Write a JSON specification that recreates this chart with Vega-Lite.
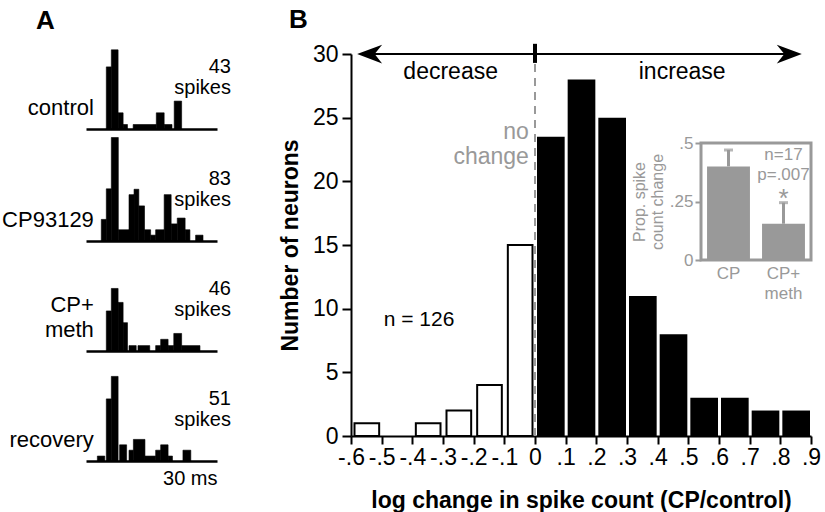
{
  "$schema": "https://vega.github.io/schema/vega-lite/v6.json",
  "padding": {"left": 2, "top": 6, "right": 0, "bottom": 0},
  "background": "white",
  "config": {"view": {"stroke": null}, "font": "Liberation Sans", "axis": {"grid": false}},
  "datasets": {
    "ctrl": [
      {"t0": 4.65, "t1": 5.8, "n": 13.8},
      {"t0": 5.8, "t1": 7.35, "n": 17.6},
      {"t0": 7.35, "t1": 8.5, "n": 3.6},
      {"t0": 8.5, "t1": 9.5, "n": 1},
      {"t0": 10.8, "t1": 16.1, "n": 1},
      {"t0": 16.1, "t1": 17.9, "n": 3.6},
      {"t0": 17.9, "t1": 19.7, "n": 1},
      {"t0": 20.2, "t1": 21.9, "n": 6.2}
    ],
    "cp": [
      {"t0": 3.5, "t1": 4.65, "n": 4.8},
      {"t0": 4.65, "t1": 5.8, "n": 11.6},
      {"t0": 5.8, "t1": 7.4, "n": 23},
      {"t0": 7.4, "t1": 9.85, "n": 2.5},
      {"t0": 9.85, "t1": 11.0, "n": 10.3},
      {"t0": 11.0, "t1": 12.1, "n": 11.5},
      {"t0": 12.1, "t1": 13.4, "n": 7.8},
      {"t0": 13.4, "t1": 14.8, "n": 2.5},
      {"t0": 14.8, "t1": 15.95, "n": 1.3},
      {"t0": 15.95, "t1": 17.9, "n": 2.5},
      {"t0": 17.9, "t1": 19.5, "n": 10.3},
      {"t0": 19.5, "t1": 20.9, "n": 3.8},
      {"t0": 20.9, "t1": 22.7, "n": 5.1},
      {"t0": 22.7, "t1": 23.8, "n": 2.5},
      {"t0": 25.1, "t1": 26.8, "n": 1.3}
    ],
    "meth": [
      {"t0": 4.65, "t1": 5.8, "n": 8.9},
      {"t0": 5.8, "t1": 7.35, "n": 13.9},
      {"t0": 7.35, "t1": 8.5, "n": 10.8},
      {"t0": 8.5, "t1": 9.5, "n": 6.3},
      {"t0": 9.85, "t1": 11.5, "n": 1.2},
      {"t0": 11.9, "t1": 14.6, "n": 1.2},
      {"t0": 15.95, "t1": 17.1, "n": 1.2},
      {"t0": 17.1, "t1": 18.8, "n": 2.6},
      {"t0": 18.8, "t1": 20.1, "n": 1.2},
      {"t0": 20.1, "t1": 21.9, "n": 3.9},
      {"t0": 21.9, "t1": 26.1, "n": 1.2}
    ],
    "rec": [
      {"t0": 2.6, "t1": 4.3, "n": 1.1},
      {"t0": 4.65, "t1": 5.8, "n": 13.8},
      {"t0": 5.8, "t1": 7.35, "n": 18.8},
      {"t0": 7.7, "t1": 9.3, "n": 3.6},
      {"t0": 9.85, "t1": 10.85, "n": 2.4},
      {"t0": 10.85, "t1": 13.5, "n": 4.8},
      {"t0": 13.5, "t1": 15.95, "n": 1.1},
      {"t0": 15.95, "t1": 17.1, "n": 2.4},
      {"t0": 17.1, "t1": 18.8, "n": 3.6},
      {"t0": 18.8, "t1": 19.8, "n": 1.1},
      {"t0": 22.2, "t1": 24.0, "n": 2.4}
    ],
    "hist": [
      {"lo": -0.6, "hi": -0.5, "count": 1, "dir": "decrease"},
      {"lo": -0.4, "hi": -0.3, "count": 1, "dir": "decrease"},
      {"lo": -0.3, "hi": -0.2, "count": 2, "dir": "decrease"},
      {"lo": -0.2, "hi": -0.1, "count": 4, "dir": "decrease"},
      {"lo": -0.1, "hi": 0, "count": 15, "dir": "decrease"},
      {"lo": 0, "hi": 0.1, "count": 23.5, "dir": "increase"},
      {"lo": 0.1, "hi": 0.2, "count": 28, "dir": "increase"},
      {"lo": 0.2, "hi": 0.3, "count": 25, "dir": "increase"},
      {"lo": 0.3, "hi": 0.4, "count": 11, "dir": "increase"},
      {"lo": 0.4, "hi": 0.5, "count": 8, "dir": "increase"},
      {"lo": 0.5, "hi": 0.6, "count": 3, "dir": "increase"},
      {"lo": 0.6, "hi": 0.7, "count": 3, "dir": "increase"},
      {"lo": 0.7, "hi": 0.8, "count": 2, "dir": "increase"},
      {"lo": 0.8, "hi": 0.9, "count": 2, "dir": "increase"}
    ],
    "inset": [
      {"cond": "CP", "value": 0.4, "upper": 0.47},
      {"cond": "CP+meth", "value": 0.155, "upper": 0.245}
    ]
  },
  "bounds": "flush",
  "spacing": 265,
  "hconcat": [
    {
      "title": {"text": "A", "anchor": "start", "frame": "group", "dx": -50, "fontSize": 26, "fontWeight": "bold", "offset": 16},
      "bounds": "flush",
      "spacing": 10,
      "vconcat": [
        {
          "width": 131, "height": 75,
          "layer": [
            {"data": {"name": "ctrl"}, "mark": {"type": "rect", "color": "black", "stroke": "black", "strokeWidth": 0.6},
             "encoding": {
               "x": {"field": "t0", "type": "quantitative", "scale": {"domain": [0, 30], "nice": false, "zero": false}, "axis": {"domain": true, "domainColor": "black", "domainWidth": 2.5, "ticks": false, "labels": false, "title": null}},
               "x2": {"field": "t1"},
               "y": {"field": "n", "type": "quantitative", "scale": {"domain": [0, 16.667], "nice": false}, "axis": null},
               "y2": {"datum": 0}}},
            {"data": {"values": [{"label": "control", "spikes": "43\nspikes"}]},
             "layer": [
               {"mark": {"type": "text", "align": "right", "baseline": "bottom", "fontSize": 22, "lineBreak": "\n", "lineHeight": 25},
                "encoding": {"x": {"datum": 1.8}, "y": {"datum": 2.0}, "text": {"field": "label"}}},
               {"mark": {"type": "text", "align": "right", "baseline": "top", "fontSize": 20, "lineBreak": "\n", "lineHeight": 21},
                "encoding": {"x": {"datum": 33.2}, "y": {"datum": 15.9}, "text": {"field": "spikes"}}}
             ]}
          ]
        },
        {
          "width": 131, "height": 102,
          "layer": [
            {"data": {"name": "cp"}, "mark": {"type": "rect", "color": "black", "stroke": "black", "strokeWidth": 0.6},
             "encoding": {
               "x": {"field": "t0", "type": "quantitative", "scale": {"domain": [0, 30], "nice": false, "zero": false}, "axis": {"domain": true, "domainColor": "black", "domainWidth": 2.5, "ticks": false, "labels": false, "title": null}},
               "x2": {"field": "t1"},
               "y": {"field": "n", "type": "quantitative", "scale": {"domain": [0, 22.667], "nice": false}, "axis": null},
               "y2": {"datum": 0}}},
            {"data": {"values": [{"label": "CP93129", "spikes": "83\nspikes"}]},
             "layer": [
               {"mark": {"type": "text", "align": "right", "baseline": "bottom", "fontSize": 22, "lineBreak": "\n", "lineHeight": 25},
                "encoding": {"x": {"datum": 1.8}, "y": {"datum": 2.0}, "text": {"field": "label"}}},
               {"mark": {"type": "text", "align": "right", "baseline": "top", "fontSize": 20, "lineBreak": "\n", "lineHeight": 21},
                "encoding": {"x": {"datum": 33.2}, "y": {"datum": 15.9}, "text": {"field": "spikes"}}}
             ]}
          ]
        },
        {
          "width": 131, "height": 100,
          "layer": [
            {"data": {"name": "meth"}, "mark": {"type": "rect", "color": "black", "stroke": "black", "strokeWidth": 0.6},
             "encoding": {
               "x": {"field": "t0", "type": "quantitative", "scale": {"domain": [0, 30], "nice": false, "zero": false}, "axis": {"domain": true, "domainColor": "black", "domainWidth": 2.5, "ticks": false, "labels": false, "title": null}},
               "x2": {"field": "t1"},
               "y": {"field": "n", "type": "quantitative", "scale": {"domain": [0, 22.222], "nice": false}, "axis": null},
               "y2": {"datum": 0}}},
            {"data": {"values": [{"label": "CP+\nmeth", "spikes": "46\nspikes"}]},
             "layer": [
               {"mark": {"type": "text", "align": "right", "baseline": "bottom", "fontSize": 22, "lineBreak": "\n", "lineHeight": 25},
                "encoding": {"x": {"datum": 1.8}, "y": {"datum": 7.6}, "text": {"field": "label"}}},
               {"mark": {"type": "text", "align": "right", "baseline": "top", "fontSize": 20, "lineBreak": "\n", "lineHeight": 21},
                "encoding": {"x": {"datum": 33.2}, "y": {"datum": 15.9}, "text": {"field": "spikes"}}}
             ]}
          ]
        },
        {
          "width": 131, "height": 100,
          "layer": [
            {"data": {"name": "rec"}, "mark": {"type": "rect", "color": "black", "stroke": "black", "strokeWidth": 0.6},
             "encoding": {
               "x": {"field": "t0", "type": "quantitative", "scale": {"domain": [0, 30], "nice": false, "zero": false}, "axis": {"domain": true, "domainColor": "black", "domainWidth": 2.5, "ticks": false, "labels": false, "title": "30 ms", "titleAnchor": "end", "titleFontSize": 20, "titleFontWeight": "normal", "titleColor": "black", "titlePadding": 7}},
               "x2": {"field": "t1"},
               "y": {"field": "n", "type": "quantitative", "scale": {"domain": [0, 22.222], "nice": false}, "axis": null},
               "y2": {"datum": 0}}},
            {"data": {"values": [{"label": "recovery", "spikes": "51\nspikes"}]},
             "layer": [
               {"mark": {"type": "text", "align": "right", "baseline": "bottom", "fontSize": 22, "lineBreak": "\n", "lineHeight": 25},
                "encoding": {"x": {"datum": 1.8}, "y": {"datum": 2.0}, "text": {"field": "label"}}},
               {"mark": {"type": "text", "align": "right", "baseline": "top", "fontSize": 20, "lineBreak": "\n", "lineHeight": 21},
                "encoding": {"x": {"datum": 33.2}, "y": {"datum": 15.9}, "text": {"field": "spikes"}}}
             ]}
          ]
        }
      ]
    },
    {
      "width": 460, "height": 382,
      "title": {"text": "B", "anchor": "start", "frame": "group", "dx": -62, "fontSize": 26, "fontWeight": "bold", "offset": 9},
      "resolve": {"scale": {"x": "independent", "y": "independent"}, "axis": {"x": "independent", "y": "independent"}},
      "layer": [
        {
          "layer": [
            {"data": {"name": "hist"},
             "transform": [{"filter": "datum.dir == 'decrease'"}],
             "mark": {"type": "bar", "fill": "white", "stroke": "black", "strokeWidth": 2, "binSpacing": 6},
             "encoding": {
               "x": {"field": "lo", "type": "quantitative", "bin": {"binned": true, "step": 0.1}, "scale": {"domain": [-0.6, 0.9], "nice": false, "zero": false},
                     "axis": {"values": [-0.6, -0.5, -0.4, -0.3, -0.2, -0.1, 0, 0.1, 0.2, 0.3, 0.4, 0.5, 0.6, 0.7, 0.8, 0.9],
                              "labelExpr": "datum.value == 0 ? '0' : (datum.value < 0 ? '-' : '') + '.' + format(abs(round(datum.value*10)), 'd')",
                              "labelFontSize": 23, "labelColor": "black", "labelOverlap": false, "labelFlush": false, "labelPadding": 2,
                              "tickSize": 8, "tickWidth": 2, "tickColor": "black", "domainColor": "black", "domainWidth": 2,
                              "title": "log change in spike count (CP/control)", "titleFontSize": 23, "titleFontWeight": "bold", "titleColor": "black", "titlePadding": 20}},
               "x2": {"field": "hi"},
               "y": {"field": "count", "type": "quantitative", "scale": {"domain": [0, 30], "nice": false},
                     "axis": {"values": [0, 5, 10, 15, 20, 25, 30], "labelFontSize": 23, "labelColor": "black", "labelPadding": 4,
                              "tickSize": 9, "tickWidth": 2, "tickColor": "black", "domainColor": "black", "domainWidth": 2,
                              "title": "Number of neurons", "titleFontSize": 23, "titleFontWeight": "bold", "titleColor": "black", "titlePadding": 10}}}},
            {"data": {"name": "hist"},
             "transform": [{"filter": "datum.dir == 'increase'"}],
             "mark": {"type": "bar", "color": "black", "binSpacing": 3},
             "encoding": {
               "x": {"field": "lo", "type": "quantitative", "bin": {"binned": true, "step": 0.1}},
               "x2": {"field": "hi"},
               "y": {"field": "count", "type": "quantitative"}}},
            {"data": {"values": [{}]},
             "mark": {"type": "rule", "color": "#999999", "strokeWidth": 2, "strokeDash": [8, 6]},
             "encoding": {"x": {"datum": 0}, "y": {"datum": 0}, "y2": {"datum": 29.3}}},
            {"data": {"values": [{}]},
             "mark": {"type": "rule", "color": "black", "strokeWidth": 2},
             "encoding": {"x": {"datum": -0.57}, "x2": {"datum": 0.86}, "y": {"datum": 30}}},
            {"data": {"values": [{}]},
             "mark": {"type": "rule", "color": "black", "strokeWidth": 4},
             "encoding": {"x": {"datum": 0}, "y": {"datum": 29.3}, "y2": {"datum": 30.8}}},
            {"data": {"values": [{}]},
             "mark": {"type": "point", "shape": "M 0 0 L 2 -0.75 L 1.4 0 L 2 0.75 Z", "size": 625, "filled": true, "color": "black", "opacity": 1, "strokeWidth": 0},
             "encoding": {"x": {"datum": -0.58}, "y": {"datum": 30}}},
            {"data": {"values": [{}]},
             "mark": {"type": "point", "shape": "M 0 0 L -2 -0.75 L -1.4 0 L -2 0.75 Z", "size": 625, "filled": true, "color": "black", "opacity": 1, "strokeWidth": 0},
             "encoding": {"x": {"datum": 0.87}, "y": {"datum": 30}}},
            {"data": {"values": [{"t": "decrease"}]},
             "mark": {"type": "text", "fontSize": 23, "baseline": "middle", "color": "black"},
             "encoding": {"x": {"datum": -0.275}, "y": {"datum": 28.6}, "text": {"field": "t"}}},
            {"data": {"values": [{"t": "increase"}]},
             "mark": {"type": "text", "fontSize": 23, "baseline": "middle", "color": "black"},
             "encoding": {"x": {"datum": 0.48}, "y": {"datum": 28.6}, "text": {"field": "t"}}},
            {"data": {"values": [{"t": "no\nchange"}]},
             "mark": {"type": "text", "fontSize": 23, "baseline": "middle", "align": "right", "color": "#999999", "lineBreak": "\n", "lineHeight": 25},
             "encoding": {"x": {"datum": -0.02}, "y": {"datum": 23.9}, "text": {"field": "t"}}},
            {"data": {"values": [{"t": "n = 126"}]},
             "mark": {"type": "text", "fontSize": 21, "baseline": "middle", "color": "black"},
             "encoding": {"x": {"datum": -0.378}, "y": {"datum": 9.1}, "text": {"field": "t"}}}
          ]
        },
        {
          "resolve": {"scale": {"x": "independent"}, "axis": {"x": "independent"}},
          "layer": [
            {"data": {"values": [{}]},
             "mark": {"type": "rect", "color": "#999999", "fillOpacity": 0, "stroke": "#999999", "strokeWidth": 3},
             "encoding": {
               "x": {"datum": 0, "type": "quantitative", "scale": {"domain": [0, 1], "range": [350, 460]}, "axis": null},
               "x2": {"datum": 1},
               "y": {"datum": 0, "type": "quantitative", "scale": {"domain": [0, 0.5], "range": [206, 89], "nice": false},
                     "axis": {"orient": "left", "offset": -350, "values": [0, 0.25, 0.5],
                              "labelExpr": "datum.value == 0 ? '0' : replace(format(datum.value, '.2~f'), '0.', '.')",
                              "labelColor": "#999999", "labelFontSize": 17, "labelPadding": 2,
                              "tickColor": "#999999", "tickSize": 6, "tickWidth": 2, "domain": false,
                              "title": ["Prop. spike", "count change"], "titleColor": "#999999", "titleFontSize": 16, "titleFontWeight": "normal", "titlePadding": 4, "titleLineHeight": 18}},
               "y2": {"datum": 0.5}}},
            {"data": {"name": "inset"},
             "layer": [
               {"mark": {"type": "bar", "color": "#999999", "width": {"band": 0.78}},
                "encoding": {
                  "x": {"field": "cond", "type": "nominal", "scale": {"type": "band", "domain": ["CP", "CP+meth"], "range": [350, 460], "paddingInner": 0, "paddingOuter": 0},
                        "axis": {"orient": "bottom", "offset": -176, "domain": false, "ticks": false, "labelAngle": 0, "labelColor": "#999999", "labelFontSize": 17, "labelPadding": 5, "labelLineHeight": 20,
                                 "labelExpr": "datum.value == 'CP+meth' ? ['CP+', 'meth'] : datum.label", "title": null}},
                  "y": {"field": "value", "type": "quantitative",
                        "axis": {"orient": "left", "offset": -350, "values": [0, 0.25, 0.5],
                                 "labelExpr": "datum.value == 0 ? '0' : replace(format(datum.value, '.2~f'), '0.', '.')",
                                 "labelColor": "#999999", "labelFontSize": 17, "labelPadding": 2,
                                 "tickColor": "#999999", "tickSize": 6, "tickWidth": 2, "domain": false,
                                 "title": ["Prop. spike", "count change"], "titleColor": "#999999", "titleFontSize": 16, "titleFontWeight": "normal", "titlePadding": 4, "titleLineHeight": 18}}}},
               {"mark": {"type": "rule", "color": "#999999", "strokeWidth": 3},
                "encoding": {"x": {"field": "cond", "type": "nominal"}, "y": {"field": "value", "type": "quantitative"}, "y2": {"field": "upper"}}},
               {"mark": {"type": "tick", "color": "#999999", "thickness": 3, "size": 9},
                "encoding": {"x": {"field": "cond", "type": "nominal"}, "y": {"field": "upper", "type": "quantitative"}}},
               {"data": {"values": [{"t": "n=17"}]},
                "mark": {"type": "text", "fontSize": 17, "baseline": "middle", "color": "#999999"},
                "encoding": {"x": {"datum": "CP+meth", "type": "nominal"}, "y": {"datum": 0.449, "type": "quantitative"}, "text": {"field": "t"}}},
               {"data": {"values": [{"t": "p=.007"}]},
                "mark": {"type": "text", "fontSize": 17, "baseline": "middle", "color": "#999999"},
                "encoding": {"x": {"datum": "CP+meth", "type": "nominal"}, "y": {"datum": 0.363, "type": "quantitative"}, "text": {"field": "t"}}},
               {"data": {"values": [{"t": "*"}]},
                "mark": {"type": "text", "fontSize": 26, "baseline": "middle", "color": "#999999"},
                "encoding": {"x": {"datum": "CP+meth", "type": "nominal"}, "y": {"datum": 0.26, "type": "quantitative"}, "text": {"field": "t"}}}
             ]}
          ]
        }
      ]
    }
  ]
}
